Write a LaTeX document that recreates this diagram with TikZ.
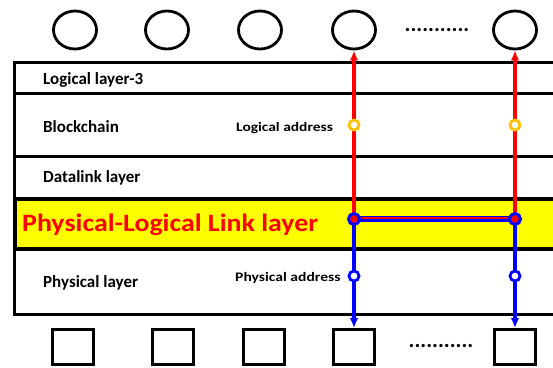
\documentclass[tikz,border=0pt]{standalone}
\usepackage{fontspec}
\setmainfont{Carlito}
\usetikzlibrary{shapes.geometric,arrows.meta,positioning}

\definecolor{linkyellow}{RGB}{255,255,0}
\definecolor{addrorange}{RGB}{255,192,0}

\begin{document}
\begin{tikzpicture}[x=1pt,y=-1pt,>={Latex[length=10pt,width=8.5pt]},
    stackbox/.style={draw,line width=2.7pt,minimum width=580pt,anchor=north west,inner sep=0pt},
    peer/.style={draw,ellipse,line width=2.8pt,minimum width=43pt,minimum height=38pt,inner sep=0pt},
    dev/.style={draw,rectangle,line width=2.8pt,minimum width=41pt,minimum height=35pt,inner sep=0pt},
    layertext/.style={anchor=base west,inner sep=0pt,font=\fontsize{17}{17}\selectfont\bfseries},
    addr/.style={anchor=base west,inner sep=0pt,font=\fontsize{13}{14}\selectfont\bfseries},
    more/.style={inner sep=0pt,font=\fontsize{22}{22}\selectfont\bfseries},
    logline/.style={red,line width=3.2pt},
    phyline/.style={blue,line width=3.2pt},
    ladr/.style={circle,draw=addrorange,fill=white,line width=2.8pt,minimum size=10pt,inner sep=0pt},
    padr/.style={circle,draw=blue,fill=white,line width=2.8pt,minimum size=10pt,inner sep=0pt},
    link/.style={circle,draw=blue,fill=red,line width=3pt,minimum size=11pt,inner sep=0pt}]
    \useasboundingbox (0,0) rectangle (553,367);

    % protocol stack
    \node[stackbox,minimum height=31pt] (L3) at (13,61) {};
    \node[stackbox,minimum height=63pt] (BC) at (13,92) {};
    \node[stackbox,minimum height=42pt] (DL) at (13,155) {};
    \node[stackbox,minimum height=66pt] (PH) at (13,247) {};
    \node[stackbox,minimum height=50pt,fill=linkyellow,line width=3.8pt] (PL) at (13,197) {};

    \node[layertext] (t1) at (43,84)  {Logical layer-3};
    \node[layertext] (t2) at (43,132) {Blockchain};
    \node[layertext] (t3) at (43,182) {Datalink layer};
    \node[layertext] (t4) at (43,287) {Physical layer};
    \node[anchor=base west,inner sep=0pt,text=red,font=\fontsize{25}{25}\selectfont\bfseries] (t5) at (22,231) {\scalebox{1.115}[1]{Physical-Logical Link layer}};
    \node[addr] (a1) at (236,131) {\scalebox{1.19}[1]{Logical address}};
    \node[addr] (a2) at (235,281) {\scalebox{1.2}[1]{Physical address}};

    % logical nodes on top
    \node[peer] (c1) at (75,30)  {};
    \node[peer] (c2) at (167,30) {};
    \node[peer] (c3) at (260,30) {};
    \node[peer] (c4) at (354,30) {};
    \node[peer] (c5) at (515,30) {};
    \node[more] (d1) at (437,30) {...........};

    % physical devices below
    \node[dev] (s1) at (73,347)  {};
    \node[dev] (s2) at (173,347) {};
    \node[dev] (s3) at (264,347) {};
    \node[dev] (s4) at (354,347) {};
    \node[dev] (s5) at (515,347) {};
    \node[more] (d2) at (441,346) {...........};

    \coordinate (p1) at (354,219);
    \coordinate (p2) at (515,219);

    % paths up to the logical side
    \draw[logline,->] (p1) -- (c4);
    \draw[logline,->] (p2) -- (c5);
    % paths down to the devices
    \draw[phyline,->] (p1) -- (s4);
    \draw[phyline,->] (p2) -- (s5);
    % link between both mappings
    \draw[blue,line width=6.5pt] (p1) -- (p2);
    \draw[red,line width=2.2pt] ([yshift=0.7pt]p1) -- ([yshift=0.7pt]p2);

    \node[ladr] (o1) at (354,125) {};
    \node[ladr] (o2) at (515,125) {};
    \node[padr] (b1) at (354,276) {};
    \node[padr] (b2) at (515,276) {};
    \node[link] (m1) at (p1) {};
    \node[link] (m2) at (p2) {};
\end{tikzpicture}
\end{document}
